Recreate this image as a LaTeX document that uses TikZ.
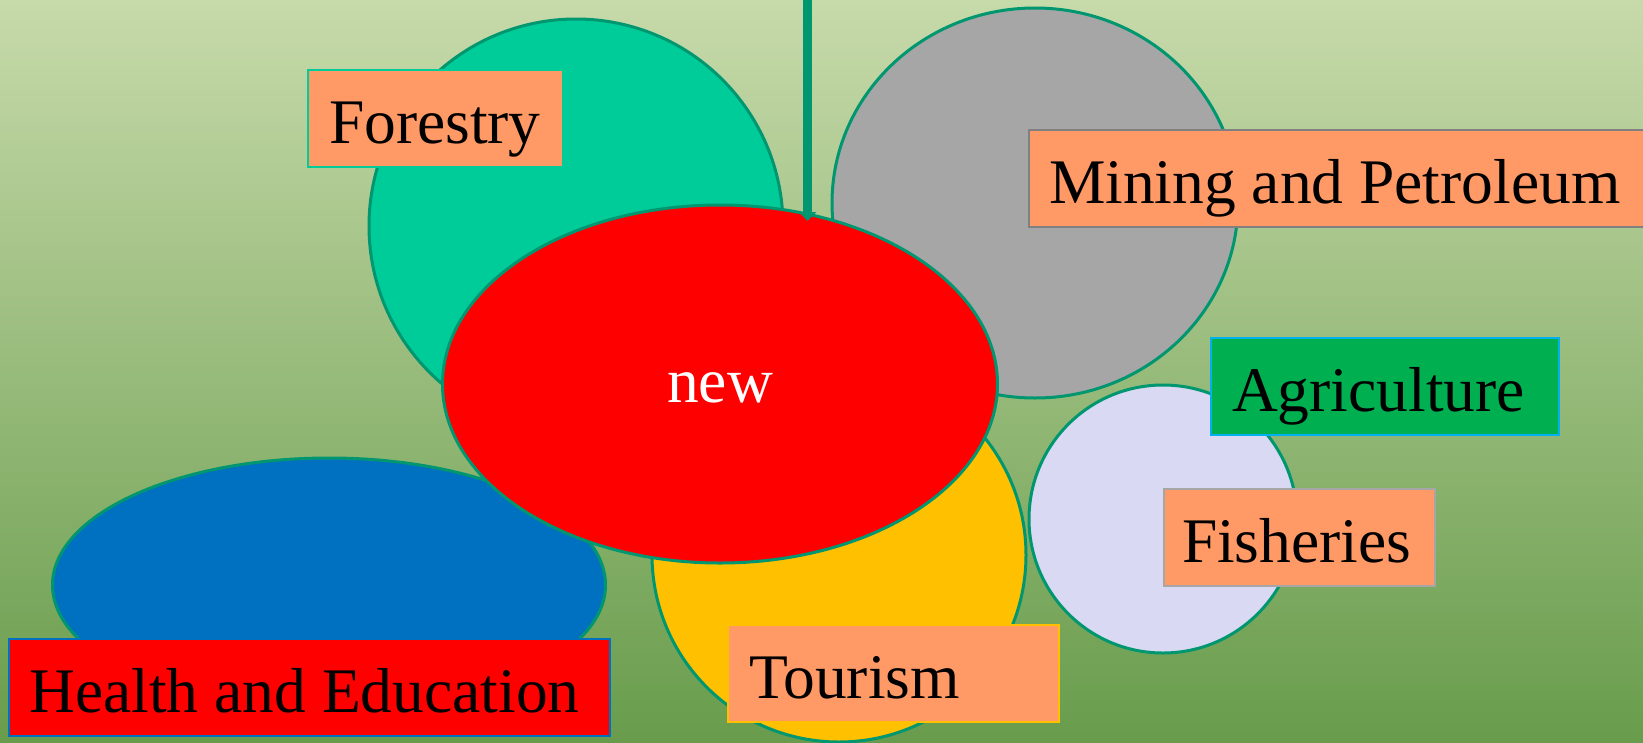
\documentclass[tikz,border=0pt]{standalone}
\usepackage{fontspec}
\setmainfont{Liberation Serif}
\newfontfamily\labfont{Liberation Serif}
\usetikzlibrary{shapes.geometric,arrows.meta}
\definecolor{bgtop}{RGB}{199,218,170}
\definecolor{bgmid}{RGB}{160,190,118}
\definecolor{bgbot}{RGB}{104,156,76}
\definecolor{edgeteal}{RGB}{0,150,112}
\definecolor{forestc}{RGB}{0,204,153}
\definecolor{grayc}{RGB}{166,166,166}
\definecolor{yellowc}{RGB}{255,192,0}
\definecolor{lavc}{RGB}{217,217,243}
\definecolor{bluec}{RGB}{0,112,192}
\definecolor{salmon}{RGB}{255,153,102}
\definecolor{agric}{RGB}{0,176,80}
\definecolor{agriedge}{RGB}{0,176,240}
\definecolor{boxgray}{RGB}{128,128,128}
\definecolor{boxgray2}{RGB}{166,166,166}
\begin{document}
\begin{tikzpicture}[x=1pt,y=-1pt,
  blob/.style={ellipse,draw=edgeteal,line width=3pt,inner sep=0pt},
  lab/.style={anchor=north west,inner sep=0pt,line width=2pt,
    text height=73.5pt,text depth=23.5pt,
    font=\labfont\fontsize{63.5pt}{70pt}\selectfont}
]
\begin{scope}
\clip (0,0) rectangle (1643,742);
\shade[top color=bgtop,middle color=bgmid,bottom color=bgbot] (0,0) rectangle (1643,742);
% shapes
\node[blob,fill=forestc,minimum width=414pt,minimum height=414pt] (forest) at (576,226) {};
\node[blob,fill=grayc,minimum width=406pt,minimum height=390pt] (mining) at (1035,203) {};
\node[blob,fill=bluec,minimum width=553pt,minimum height=254pt] (health) at (329,585) {};
\node[blob,fill=yellowc,minimum width=374pt,minimum height=374pt] (tourism) at (839,555) {};
\node[blob,fill=lavc,minimum width=268pt,minimum height=268pt] (fish) at (1163,519) {};
\node[blob,fill=red,minimum width=555pt,minimum height=358pt,text=white,
  text height=36pt,text depth=0pt,
  font=\labfont\fontsize{63.5pt}{70pt}\selectfont] (new) at (720,384) {new};
% arrow
\coordinate (ltop) at (807.5,-10);
\coordinate (ltip) at (807.5,221);
\draw[edgeteal,line width=9pt,-{Triangle[width=17pt,length=9pt]}] (ltop) -- (ltip);
% labels
\node[lab,fill=salmon,draw=forestc] (lforest) at (307,69)
  {\makebox[255pt][l]{\hspace*{21pt}Forestry}};
\node[lab,fill=salmon,draw=boxgray] (lmining) at (1028,129)
  {\makebox[640pt][l]{\hspace*{20pt}Mining and Petroleum}};
\node[lab,fill=agric,draw=agriedge] (lagri) at (1210,337)
  {\makebox[348pt][l]{\hspace*{21pt}Agriculture}};
\node[lab,fill=salmon,draw=boxgray2] (lfish) at (1163,488)
  {\makebox[271pt][l]{\hspace*{18pt}Fisheries}};
\node[lab,fill=red,draw=bluec] (lhealth) at (8.4,638)
  {\makebox[600.6pt][l]{\hspace*{20pt}Health and Education}};
\node[lab,fill=salmon,draw=yellowc] (ltour) at (727,623.5)
  {\makebox[331pt][l]{\hspace*{21pt}Tourism}};
\end{scope}
\pgfresetboundingbox
\useasboundingbox (0,0) rectangle (1643,742);
\end{tikzpicture}
\end{document}
